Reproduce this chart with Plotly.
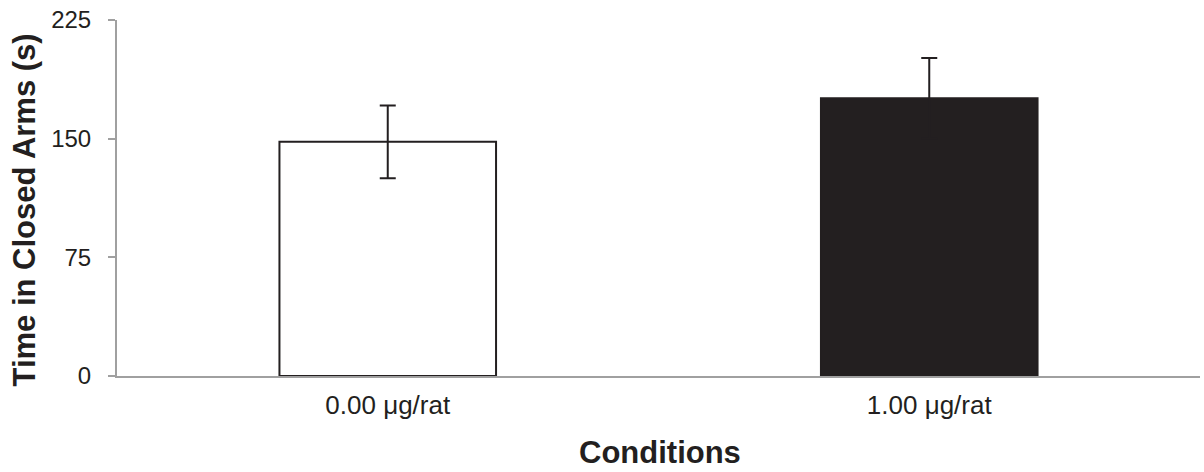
import plotly.graph_objects as go

categories = ["0.00 μg/rat", "1.00 μg/rat"]
means = [148, 175.5]
errors = [23, 25.5]
fills = ["#ffffff", "#231f20"]
y_ticks = [0, 75, 150, 225]

W, H = 1204, 472
L, R, T, B = 117, 4, 20, 96
pw = W - L - R
ph = H - T - B

fig = go.Figure()
fig.add_trace(go.Bar(
    x=categories, y=means,
    marker=dict(color=fills, line=dict(color="#231f20", width=2)),
    error_y=dict(type="data", array=errors, visible=True,
                 color="#231f20", thickness=2, width=8),
    showlegend=False,
))

fig.update_layout(
    width=W, height=H,
    margin=dict(l=L, r=R, t=T, b=B, pad=0),
    paper_bgcolor="white", plot_bgcolor="white",
    bargap=0.6,
    font=dict(family="Liberation Sans, Arial, sans-serif", color="#231f20"),
    xaxis=dict(showline=True, linecolor="#a0a0a0", linewidth=2,
               ticks="", showgrid=False, zeroline=False,
               tickfont=dict(size=26, color="#231f20"),
               ticklabelstandoff=5),
    yaxis=dict(range=[0, 225], tickvals=y_ticks, showline=True,
               linecolor="#a0a0a0", linewidth=2, ticks="outside",
               ticklen=7, tickcolor="#a0a0a0", tickwidth=2,
               showgrid=False, zeroline=False,
               tickfont=dict(size=24, color="#231f20"),
               ticklabelstandoff=12),
    annotations=[
        dict(text="<b>Time in Closed Arms (s)</b>", textangle=-90,
             xref="paper", yref="paper",
             x=(23.5 - L) / pw, y=(H - B - 210) / ph,
             xanchor="center", yanchor="middle", showarrow=False,
             font=dict(size=31, color="#231f20")),
        dict(text="<b>Conditions</b>",
             xref="paper", yref="paper",
             x=(660 - L) / pw, y=(H - B - 452) / ph,
             xanchor="center", yanchor="middle", showarrow=False,
             font=dict(size=31, color="#231f20")),
    ],
)

fig.write_html("out.html")
